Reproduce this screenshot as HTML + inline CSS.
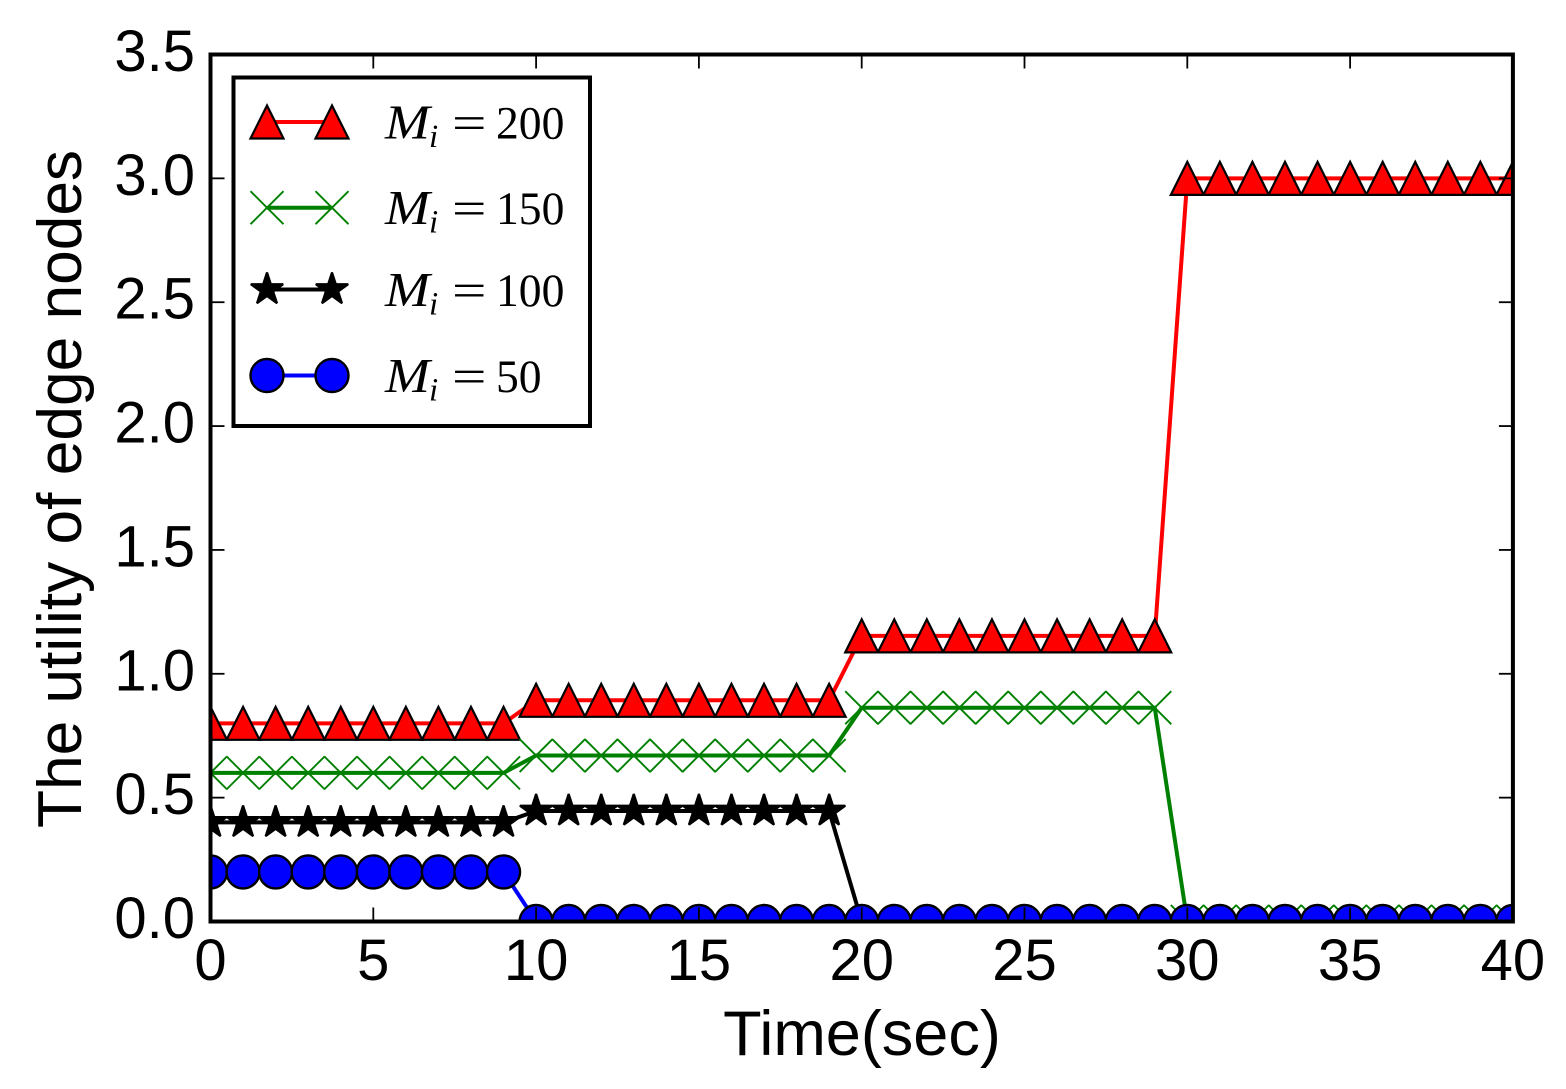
<!DOCTYPE html>
<html>
<head>
<meta charset="utf-8">
<style>
html,body{margin:0;padding:0;background:#fff;}
svg{display:block;}
.tick-text{font-family:"Liberation Sans",sans-serif;font-size:58px;fill:#000;}
.axis-title{font-family:"Liberation Sans",sans-serif;font-size:63px;fill:#000;}
.math{font-family:"Liberation Serif",serif;fill:#000;}
</style>
</head>
<body>
<svg id="chart" xmlns="http://www.w3.org/2000/svg" width="1566" height="1089" viewBox="0 0 1566 1089">
  <defs><clipPath id="plot-clip"><rect x="210.5" y="54.5" width="1302.4" height="867"/></clipPath></defs>
  <rect x="0" y="0" width="1566" height="1089" fill="#fff"/>
  <g id="series-layer" clip-path="url(#plot-clip)"></g>
  <g id="tick-layer"></g>
  <rect x="210.5" y="54.5" width="1302.4" height="867" fill="none" stroke="#000" stroke-width="4"/>
  <g id="legend-layer">
    <rect x="233.5" y="77.5" width="356.5" height="348.5" fill="#fff" stroke="#000" stroke-width="4"/>
  </g>
  <text class="axis-title" text-anchor="middle" style="font-size:62px" transform="translate(81,489) rotate(-90) scale(1.004,1)">The utility of edge nodes</text>
  <text class="axis-title" text-anchor="middle" x="862" y="1055">Time(sec)</text>
</svg>
<script>
const times = [0,1,2,3,4,5,6,7,8,9,10,11,12,13,14,15,16,17,18,19,20,21,22,23,24,25,26,27,28,29,30,31,32,33,34,35,36,37,38,39,40];
const m200 = [0.8,0.8,0.8,0.8,0.8,0.8,0.8,0.8,0.8,0.8,0.893,0.893,0.893,0.893,0.893,0.893,0.893,0.893,0.893,0.893,1.153,1.153,1.153,1.153,1.153,1.153,1.153,1.153,1.153,1.153,3,3,3,3,3,3,3,3,3,3,3];
const m150 = [0.6,0.6,0.6,0.6,0.6,0.6,0.6,0.6,0.6,0.6,0.67,0.67,0.67,0.67,0.67,0.67,0.67,0.67,0.67,0.67,0.863,0.863,0.863,0.863,0.863,0.863,0.863,0.863,0.863,0.863,0,0,0,0,0,0,0,0,0,0,0];
const m100 = [0.4,0.4,0.4,0.4,0.4,0.4,0.4,0.4,0.4,0.4,0.446,0.446,0.446,0.446,0.446,0.446,0.446,0.446,0.446,0.446,0,0,0,0,0,0,0,0,0,0,0,0,0,0,0,0,0,0,0,0,0];
const m50 = [0.2,0.2,0.2,0.2,0.2,0.2,0.2,0.2,0.2,0.2,0,0,0,0,0,0,0,0,0,0,0,0,0,0,0,0,0,0,0,0,0,0,0,0,0,0,0,0,0,0,0];
const xTicks = [0,5,10,15,20,25,30,35,40];
const yTicks = [0,0.5,1,1.5,2,2.5,3,3.5];
const yTickLabels = ["0.0","0.5","1.0","1.5","2.0","2.5","3.0","3.5"];
const legendValues = ["200","150","100","50"];

const NS = "http://www.w3.org/2000/svg";
const xScale = v => 210.5 + v * (1302.4 / 40);
const yScale = v => 921.5 - v * (867 / 3.5);
const MS = 33;

function make(tag, attrs, parent) {
  const el = document.createElementNS(NS, tag);
  for (const k in attrs) el.setAttribute(k, attrs[k]);
  parent.appendChild(el);
  return el;
}
function starPoints(cx, cy) {
  const pts = [];
  const R = 17, r = R * 0.381966;
  for (let i = 0; i < 10; i++) {
    const a = -Math.PI / 2 + i * Math.PI / 5;
    const q = i % 2 ? r : R;
    pts.push((cx + q * Math.cos(a)).toFixed(2) + "," + (cy + q * Math.sin(a)).toFixed(2));
  }
  return pts.join(" ");
}
function drawMarker(kind, cx, cy, parent) {
  const h = MS / 2;
  if (kind === "triangle") {
    return make("polygon", {points: `${cx},${cy-h} ${cx-h},${cy+h} ${cx+h},${cy+h}`, fill: "#f00", stroke: "#000", "stroke-width": 2.2, "stroke-linejoin": "miter"}, parent);
  }
  if (kind === "x") {
    return make("path", {d: `M${cx-h} ${cy-h}L${cx+h} ${cy+h}M${cx-h} ${cy+h}L${cx+h} ${cy-h}`, fill: "none", stroke: "#008000", "stroke-width": 1.9}, parent);
  }
  if (kind === "star") {
    return make("polygon", {points: starPoints(cx, cy), fill: "#000", stroke: "#000", "stroke-width": 2.2, "stroke-linejoin": "bevel"}, parent);
  }
  return make("circle", {cx: cx, cy: cy, r: h, fill: "#00f", stroke: "#000", "stroke-width": 2.4}, parent);
}

const seriesLayer = document.getElementById("series-layer");
const seriesList = [
  {id: "m200", values: m200, color: "#f00", marker: "triangle"},
  {id: "m150", values: m150, color: "#008000", marker: "x"},
  {id: "m100", values: m100, color: "#000", marker: "star"},
  {id: "m50", values: m50, color: "#00f", marker: "circle"}
];
seriesList.forEach(s => {
  const g = make("g", {}, seriesLayer);
  
  
  const pts = times.map((t, i) => xScale(t).toFixed(2) + "," + yScale(s.values[i]).toFixed(2)).join(" ");
  const line = make("polyline", {points: pts, fill: "none", stroke: s.color, "stroke-width": 4, "stroke-linejoin": "round"}, g);
  
  
  times.forEach((t, i) => {
    const mark = drawMarker(s.marker, xScale(t), yScale(s.values[i]), g);
    
    
  });
});

const tickLayer = document.getElementById("tick-layer");
const TICK = 14;
xTicks.forEach(v => {
  const x = xScale(v);
  const bottomTick = make("line", {x1: x, x2: x, y1: 921.5, y2: 921.5 - TICK, stroke: "#000", "stroke-width": 1.8}, tickLayer);
  
  
  const topTick = make("line", {x1: x, x2: x, y1: 54.5, y2: 54.5 + TICK, stroke: "#000", "stroke-width": 1.8}, tickLayer);
  
  
  const label = make("text", {x: x, y: 980, "text-anchor": "middle", class: "tick-text"}, tickLayer);
  label.textContent = String(v);
  
  
});
yTicks.forEach((v, i) => {
  const y = yScale(v);
  const leftTick = make("line", {x1: 210.5, x2: 210.5 + TICK, y1: y, y2: y, stroke: "#000", "stroke-width": 1.8}, tickLayer);
  
  
  const rightTick = make("line", {x1: 1512.9, x2: 1512.9 - TICK, y1: y, y2: y, stroke: "#000", "stroke-width": 1.8}, tickLayer);
  
  
  const label = make("text", {x: 195, y: y + 16.5, "text-anchor": "end", class: "tick-text"}, tickLayer);
  label.textContent = yTickLabels[i];
  
  
});

const legendLayer = document.getElementById("legend-layer");
const legendRows = [122, 207.7, 289.5, 375.5];
seriesList.forEach((s, i) => {
  const y = legendRows[i];
  const entry = make("g", {}, legendLayer);
  
  
  const sample = make("line", {x1: 267, x2: 332, y1: y, y2: y, stroke: s.color, "stroke-width": 4}, entry);
  
  
  [267, 332].forEach(x => {
    const mk = drawMarker(s.marker, x, y, entry);
    
    
  });
  const base = y + 16.5;
  const big = make("text", {transform: `translate(385,${base}) scale(1.1,1)`, class: "math", "font-style": "italic", "font-size": 49}, entry);
  big.textContent = "M";
  
  
  const sub = make("text", {x: 429, y: base + 8.5, class: "math", "font-style": "italic", "font-size": 33}, entry);
  sub.textContent = "i";
  
  
  const eq = make("text", {transform: `translate(452,${base}) scale(1.3,1)`, class: "math", "font-size": 47}, entry);
  eq.textContent = "=";
  
  
  const num = make("text", {transform: `translate(496,${base}) scale(0.97,1)`, class: "math", "font-size": 47}, entry);
  num.textContent = legendValues[i];
  
  
});
</script>
</body>
</html>
